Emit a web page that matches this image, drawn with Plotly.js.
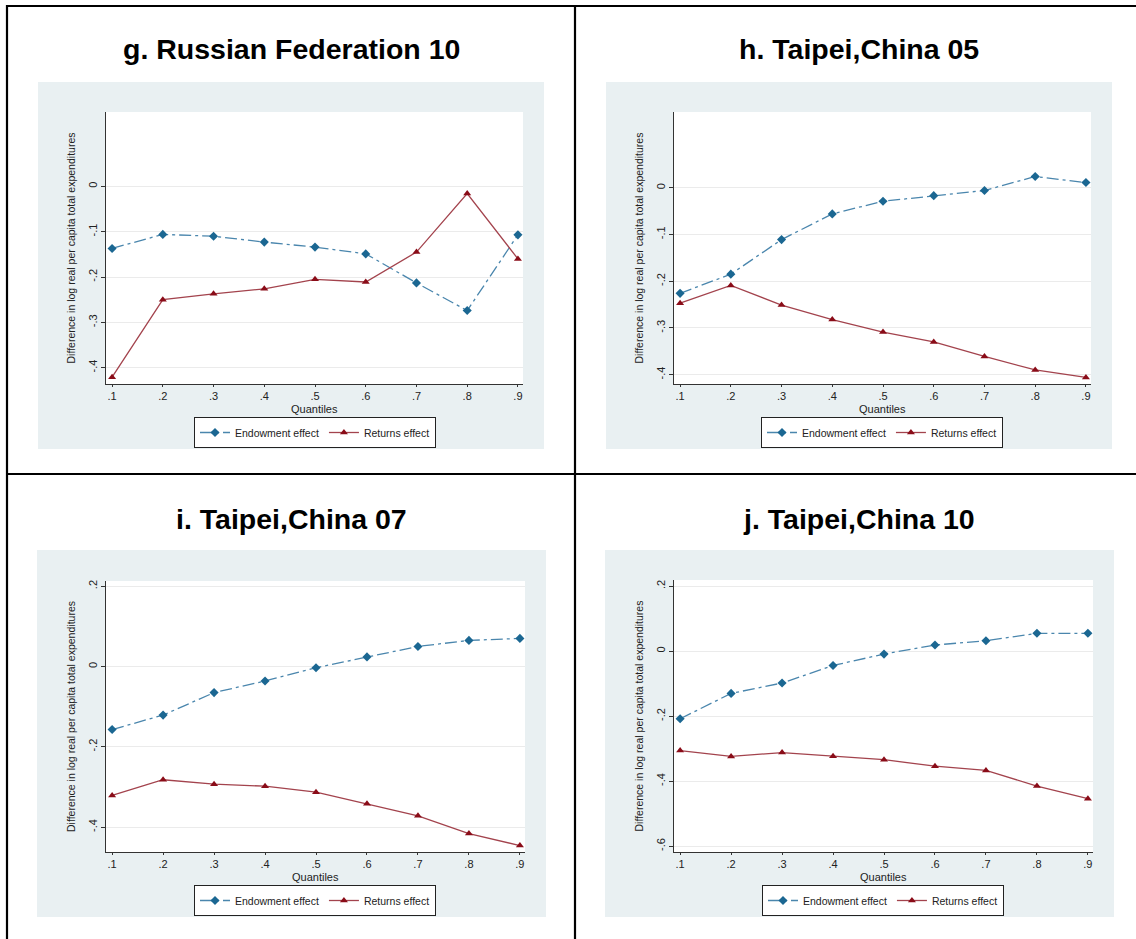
<!DOCTYPE html>
<html>
<head>
<meta charset="utf-8">
<script src="https://cdn.plot.ly/plotly-3.0.1.min.js"></script>
<style>
  html, body { margin: 0; padding: 0; background: #ffffff; }
  #chart { width: 1136px; height: 939px; }
</style>
</head>
<body>
<div id="chart"></div>
<script>
// ---- data ----
const quantiles = [0.1, 0.2, 0.3, 0.4, 0.5, 0.6, 0.7, 0.8, 0.9];
const quantileLabels = [".1", ".2", ".3", ".4", ".5", ".6", ".7", ".8", ".9"];

const panelTitles = ["g. Russian Federation 10", "h. Taipei,China 05", "i. Taipei,China 07", "j. Taipei,China 10"];
const seriesNames = ["Endowment effect", "Returns effect"];

const rus10Endowment = [-0.137, -0.106, -0.110, -0.123, -0.134, -0.149, -0.213, -0.274, -0.107];
const rus10Returns   = [-0.421, -0.250, -0.237, -0.226, -0.205, -0.211, -0.145, -0.016, -0.160];

const tpe05Endowment = [-0.226, -0.185, -0.111, -0.056, -0.029, -0.017, -0.006, 0.024, 0.011];
const tpe05Returns   = [-0.247, -0.209, -0.251, -0.282, -0.309, -0.330, -0.361, -0.390, -0.406];

const tpe07Endowment = [-0.157, -0.121, -0.065, -0.036, -0.003, 0.024, 0.050, 0.065, 0.070];
const tpe07Returns   = [-0.321, -0.282, -0.293, -0.298, -0.313, -0.342, -0.372, -0.416, -0.446];

const tpe10Endowment = [-0.208, -0.130, -0.098, -0.044, -0.009, 0.019, 0.032, 0.055, 0.055];
const tpe10Returns   = [-0.306, -0.324, -0.312, -0.323, -0.334, -0.354, -0.367, -0.415, -0.454];

const yTickVals1 = [-0.4, -0.3, -0.2, -0.1, 0];
const yTickText1 = ["-.4", "-.3", "-.2", "-.1", "0"];
const yTickVals2 = [-0.4, -0.2, 0, 0.2];
const yTickText2 = ["-.4", "-.2", "0", ".2"];
const yTickVals3 = [-0.6, -0.4, -0.2, 0, 0.2];
const yTickText3 = ["-.6", "-.4", "-.2", "0", ".2"];

const yTitle = "Difference in log real per capita total expenditures";
const xTitle = "Quantiles";

// ---- layout helpers ----
const W = 1136, H = 939;
const px = x => x / W;
const py = y => 1 - y / H;

const endowLine = "#4a86ad", endowMarker = "#1b6792";
const returnLine = "#a3434d", returnMarker = "#8a0c18";
const grayBg = "#e9f0f2";
const fontFam = "'Liberation Sans', Arial, sans-serif";

const panels = [
  { endow: rus10Endowment, ret: rus10Returns, x0: 106, x1: 523, y0: 112, y1: 384, yr: [-0.436, 0.164], tv: yTickVals1, tt: yTickText1,
    bg: [38, 82, 544, 449], title: [291, 49], legX: 315, legY: 417, xt: 402 },
  { endow: tpe05Endowment, ret: tpe05Returns, x0: 674, x1: 1091, y0: 112, y1: 384, yr: [-0.42, 0.162], tv: yTickVals1, tt: yTickText1,
    bg: [606, 82, 1112, 449], title: [859, 49], legX: 882, legY: 417, xt: 402 },
  { endow: tpe07Endowment, ret: tpe07Returns, x0: 106, x1: 525, y0: 581, y1: 852, yr: [-0.462, 0.213], tv: yTickVals2, tt: yTickText2,
    bg: [37, 550, 546, 917], title: [291, 519], legX: 315, legY: 885, xt: 870 },
  { endow: tpe10Endowment, ret: tpe10Returns, x0: 674, x1: 1093, y0: 580, y1: 852, yr: [-0.618, 0.219], tv: yTickVals3, tt: yTickText3,
    bg: [605, 550, 1114, 917], title: [859, 519], legX: 883, legY: 885, xt: 870 }
];

const data = [];
const layout = {
  width: W, height: H,
  margin: { l: 0, r: 0, t: 0, b: 0 },
  paper_bgcolor: "#ffffff",
  plot_bgcolor: "#ffffff",
  font: { family: fontFam, color: "#222" },
  shapes: [],
  annotations: []
};

panels.forEach((p, i) => {
  const n = i === 0 ? "" : String(i + 1);
  const legName = "legend" + n;
  data.push({
    x: quantiles, y: p.endow, name: seriesNames[0], type: "scatter", mode: "lines+markers",
    xaxis: "x" + n, yaxis: "y" + n, legend: legName,
    line: { color: endowLine, width: 1.3, dash: "12px,4px,3px,4px" },
    marker: { symbol: "diamond", size: 7, color: endowMarker }
  });
  data.push({
    x: quantiles, y: p.ret, name: seriesNames[1], type: "scatter", mode: "lines+markers",
    xaxis: "x" + n, yaxis: "y" + n, legend: legName,
    line: { color: returnLine, width: 1.3 },
    marker: { symbol: "triangle-up", size: 7, color: returnMarker }
  });

  layout["xaxis" + n] = {
    domain: [px(p.x0), px(p.x1)], anchor: "y" + n, range: [0.088, 0.91],
    tickvals: quantiles, ticktext: quantileLabels,
    ticks: "outside", ticklen: 2, tickcolor: "#333", tickwidth: 1,
    showline: true, linecolor: "#333", linewidth: 1,
    showgrid: false, zeroline: false, fixedrange: true,
    tickfont: { size: 11, color: "#222", family: fontFam }
  };
  layout["yaxis" + n] = {
    domain: [py(p.y1), py(p.y0)], anchor: "x" + n, range: p.yr,
    tickvals: p.tv, ticktext: p.tt, tickangle: -90,
    ticks: "outside", ticklen: 4, tickcolor: "#333", tickwidth: 1,
    showline: true, linecolor: "#333", linewidth: 1,
    showgrid: true, gridcolor: "#ebebeb", gridwidth: 1, zeroline: false, fixedrange: true,
    tickfont: { size: 11, color: "#222", family: fontFam },
    title: { text: yTitle, font: { size: 10.5, color: "#222", family: fontFam }, standoff: 8 }
  };
  layout[legName] = {
    orientation: "h", x: px(p.legX), xanchor: "center", y: py(p.legY), yanchor: "top",
    bordercolor: "#222", borderwidth: 1, bgcolor: "#ffffff",
    font: { size: 10.5, color: "#222", family: fontFam },
    itemclick: false, itemdoubleclick: false
  };

  // gray graph region and white plot region
  layout.shapes.push({ type: "rect", xref: "paper", yref: "paper", layer: "below",
    x0: px(p.bg[0]), x1: px(p.bg[2]), y0: py(p.bg[3]), y1: py(p.bg[1]),
    fillcolor: grayBg, line: { width: 0 } });
  layout.shapes.push({ type: "rect", xref: "paper", yref: "paper", layer: "below",
    x0: px(p.x0), x1: px(p.x1), y0: py(p.y1), y1: py(p.y0),
    fillcolor: "#ffffff", line: { width: 0 } });

  // x-axis title (placed tight under the tick labels, as in the reference)
  layout.annotations.push({
    text: xTitle, xref: "paper", yref: "paper",
    x: px((p.x0 + p.x1) / 2), y: py(p.xt), xanchor: "center", yanchor: "top",
    showarrow: false, borderpad: 0, font: { size: 11, color: "#222", family: fontFam }
  });

  layout.annotations.push({
    text: "<b>" + panelTitles[i] + "</b>", xref: "paper", yref: "paper",
    x: px(p.title[0]), y: py(p.title[1]), xanchor: "center", yanchor: "middle",
    showarrow: false, font: { size: 28.5, color: "#000", family: fontFam }
  });
});

// outer table frame lines
const frame = [
  [7, 6, 1136, 6], [7, 5, 7, 939], [575, 6, 575, 939], [7, 474, 1136, 474]
];
frame.forEach(f => layout.shapes.push({
  type: "line", xref: "paper", yref: "paper", layer: "above",
  x0: px(f[0]), y0: py(f[1]), x1: px(f[2]), y1: py(f[3]),
  line: { color: "#000", width: 2.2 }
}));

Plotly.newPlot("chart", data, layout, { displayModeBar: false, staticPlot: true });
</script>
</body>
</html>
